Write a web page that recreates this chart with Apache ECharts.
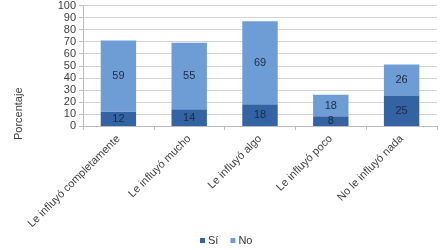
<!DOCTYPE html>
<html>
<head>
<meta charset="utf-8">
<script src="https://cdn.jsdelivr.net/npm/echarts@6/dist/echarts.min.js"></script>
<style>
  html, body { margin: 0; padding: 0; background: #fff; }
  #chart { width: 446px; height: 250px; }
</style>
</head>
<body>
<div id="chart"></div>
<script>
const categories = ['Le influyó completamente', 'Le influyó mucho', 'Le influyó algo', 'Le influyó poco', 'No le influyó nada']
const siValues = [12, 14, 18, 8, 25]
const noValues = [59, 55, 69, 18, 26]
const yTicks = { min: 0, max: 100, interval: 10 }

const chart = echarts.init(document.getElementById('chart'))
const labelStyle = {
  show: true,
  color: '#1b2a44',
  fontSize: 11,
  fontFamily: 'Liberation Sans'
}
chart.setOption({
  animation: false,
  textStyle: { fontFamily: 'Liberation Sans' },
  grid: { left: 83, right: 9, top: 5, bottom: 124 },
  legend: {
    data: ['Sí', 'No'],
    left: 195,
    top: 230,
    itemWidth: 5,
    itemHeight: 5,
    itemGap: 12,
    icon: 'rect',
    textStyle: { color: '#333', fontSize: 11, padding: [0, 0, 0, -2] }
  },
  xAxis: {
    type: 'category',
    data: categories,
    axisLine: { lineStyle: { color: '#bbb' } },
    axisTick: { show: true, lineStyle: { color: '#bbb' }, length: 4 },
    axisLabel: { rotate: 45, color: '#404040', fontSize: 11, margin: 11, interval: 0 }
  },
  yAxis: {
    type: 'value',
    min: yTicks.min,
    max: yTicks.max,
    interval: yTicks.interval,
    name: 'Porcentaje',
    nameLocation: 'middle',
    nameGap: 59,
    nameTextStyle: { color: '#404040', fontSize: 11, padding: [0, 96, 0, 0] },
    axisLine: { show: true, lineStyle: { color: '#bbb' } },
    axisTick: { show: true, lineStyle: { color: '#bbb' }, length: 4 },
    axisLabel: { color: '#404040', fontSize: 11, margin: 7 },
    splitLine: { lineStyle: { color: '#d4d4d4' } }
  },
  series: [
    {
      name: 'Sí',
      type: 'bar',
      stack: 'total',
      data: siValues,
      barWidth: '50%',
      itemStyle: { color: '#3363a3' },
      label: labelStyle
    },
    {
      name: 'No',
      type: 'bar',
      stack: 'total',
      data: noValues,
      barWidth: '50%',
      itemStyle: { color: '#6e9dd6' },
      label: labelStyle
    }
  ]
})
</script>
</body>
</html>
